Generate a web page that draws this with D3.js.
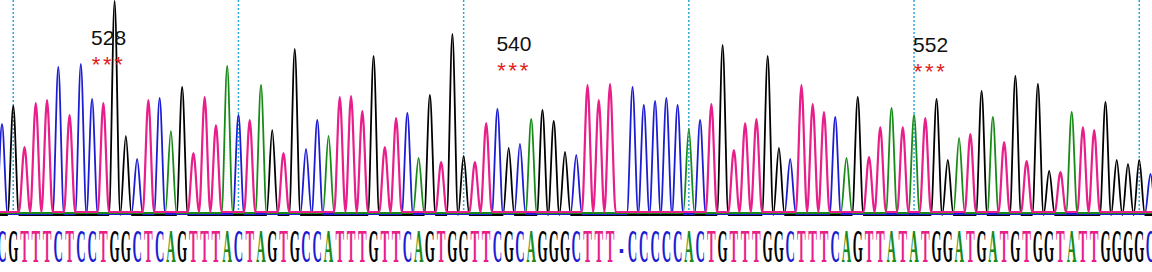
<!DOCTYPE html>
<html>
<head>
<meta charset="utf-8">
<script src="https://cdn.jsdelivr.net/npm/d3@7"></script>
<style>
  body { margin: 0; background: #fff; }
  svg { display: block; }
</style>
</head>
<body>
<script>
// called bases, one per trace position ("-" = alignment gap)
const bases = "CGTTTCTCCTGGCTCAGTTTACTAGTGCCATTTGTTCAGTGGTTCGCAGGGCTTT-CCCCCACTGTTTGGCTTTCAGTTATATGGATGATGTGGTATTGGGGC".split("");

// peak height of each called base (signal units)
const peakHeights = [
  90, 109, 65, 109, 112, 147, 97, 150, 115, 109,
  214, 79, 55, 112, 116, 82, 128, 59, 115, 87,
  147, 99, 92, 128, 85, 59, 166, 65, 94, 77,
  115, 116, 101, 159, 65, 94, 101, 55, 120, 50,
  181, 59, 50, 89, 105, 67, 70, 94, 105, 94,
  63, 59, 127, 112, 128, 0, 127, 109, 113, 116,
  109, 84, 94, 108, 170, 62, 89, 93, 159, 67,
  55, 127, 108, 100, 97, 55, 118, 55, 85, 105,
  85, 98, 94, 116, 55, 75, 78, 124, 96, 70,
  139, 51, 131, 44, 40, 101, 85, 82, 113, 55,
  51, 55, 40
];

// bases with a dotted guide line
const dividerBases = [1, 21, 41, 61, 81, 101];

// codon labels: number, first base of codon, label level
const codonNumbers = [528, 540, 552];
const codonStart = [8, 44, 81];
const codonLevel = [167, 161, 160];

const width = 1152, height = 272;
const colors = { A: "#178a17", C: "#1c1cd2", G: "#000000", T: "#e81e8a", "-": "#1c1cd2" };

const svg = d3.select("body").append("svg")
    .attr("width", width).attr("height", height);

const x = d3.scaleLinear().domain([0, bases.length - 1]).range([2, 1150.5]);
const y = d3.scaleLinear().domain([0, 212]).range([212, 0]);

// dotted guides
svg.selectAll("line.guide").data(dividerBases).enter().append("line")
    .attr("class", "guide")
    .attr("x1", d => x(d)).attr("x2", d => x(d))
    .attr("y1", 0).attr("y2", y(-3))
    .attr("stroke", "#2ea8dc")
    .attr("stroke-width", 1.5)
    .attr("stroke-dasharray", "2,2");

// traces, one per dye channel; T drawn last so its baseline sits on top
const channels = [
  { base: "G", dy: 3 },
  { base: "C", dy: 2 },
  { base: "A", dy: 1 },
  { base: "T", dy: 0 }
];

channels.forEach(ch => {
  let pts = [[-1, 0]];
  bases.forEach((b, i) => {
    if (b !== ch.base) return;
    pts.push([i - 0.5, 0], [i, peakHeights[i]], [i + 0.5, 0]);
  });
  pts.push([bases.length, 0]);
  pts.sort((a, b) => a[0] - b[0]);
  pts = pts.filter((p, i) => i === 0 || p[0] !== pts[i - 1][0]);

  const line = d3.line()
      .x(d => x(d[0]))
      .y(d => y(d[1]) + ch.dy)
      .curve(d3.curveMonotoneX);

  svg.append("path")
      .datum(pts)
      .attr("d", line)
      .attr("fill", "none")
      .attr("stroke", colors[ch.base])
      .attr("stroke-width", ch.base === "T" ? 2.2 : 1.8)
      .attr("stroke-linejoin", "round");
});

// base calls
svg.selectAll("text.base").data(bases).enter().append("text")
    .attr("class", "base")
    .attr("transform", (d, i) => `translate(${x(i)},262) scale(1,3.5)`)
    .attr("text-anchor", "middle")
    .attr("font-family", "'Liberation Serif', 'DejaVu Serif', serif")
    .attr("font-weight", "bold")
    .attr("font-size", 13)
    .attr("fill", d => colors[d])
    .text(d => d);

// codon numbers
svg.selectAll("text.codon").data(codonNumbers).enter().append("text")
    .attr("class", "codon")
    .attr("x", (d, i) => x(codonStart[i]) - 1)
    .attr("y", (d, i) => y(codonLevel[i]))
    .attr("font-family", "'Liberation Sans', Arial, sans-serif")
    .attr("font-size", 21)
    .attr("fill", "#111")
    .text(d => d);

// stars over each base of the codon
const stars = [];
codonStart.forEach((s, k) => {
  for (let j = 0; j < 3; j++) stars.push({ base: s + j, level: codonLevel[k] });
});
svg.selectAll("text.star").data(stars).enter().append("text")
    .attr("class", "star")
    .attr("x", d => x(d.base) + 4)
    .attr("y", d => y(d.level) + 27)
    .attr("text-anchor", "middle")
    .attr("font-family", "'Liberation Sans', Arial, sans-serif")
    .attr("font-size", 22)
    .attr("fill", "#e02020")
    .text("*");
</script>
</body>
</html>
